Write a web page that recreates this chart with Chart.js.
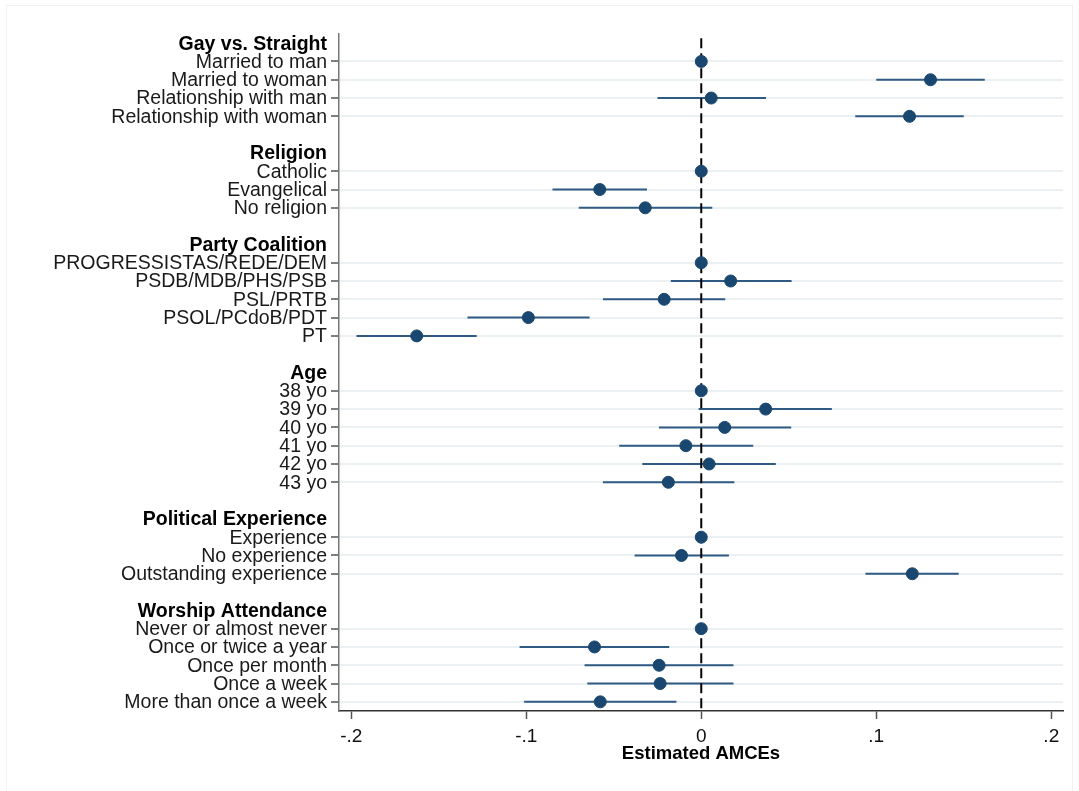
<!DOCTYPE html>
<html>
<head>
<meta charset="utf-8">
<script src="https://cdn.jsdelivr.net/npm/chart.js@4.4.0/dist/chart.umd.min.js"></script>
<style>
  body { margin: 0; background: #ffffff; }
  #wrap { width: 1079px; height: 791px; }
</style>
</head>
<body>
<div id="wrap"><canvas id="myChart" width="1079" height="791"></canvas></div>
<script>
const rowLabels = [
  "Gay vs. Straight", "Married to man", "Married to woman", "Relationship with man", "Relationship with woman", "",
  "Religion", "Catholic", "Evangelical", "No religion", "",
  "Party Coalition", "PROGRESSISTAS/REDE/DEM", "PSDB/MDB/PHS/PSB", "PSL/PRTB", "PSOL/PCdoB/PDT", "PT", "",
  "Age", "38 yo", "39 yo", "40 yo", "41 yo", "42 yo", "43 yo", "",
  "Political Experience", "Experience", "No experience", "Outstanding experience", "",
  "Worship Attendance", "Never or almost never", "Once or twice a year", "Once per month", "Once a week", "More than once a week",
];
const headers = ["Gay vs. Straight", "Religion", "Party Coalition", "Age", "Political Experience", "Worship Attendance"];

// null = header / spacer row, reference levels have no interval
const estimate = [
  null, 0, 0.131, 0.0057, 0.119, null,
  null, 0, -0.058, -0.032, null,
  null, 0, 0.0168, -0.0212, -0.0988, -0.1626, null,
  null, 0, 0.0368, 0.0134, -0.0088, 0.0045, -0.0188, null,
  null, 0, -0.0113, 0.1206, null,
  null, 0, -0.061, -0.0241, -0.0235, -0.0577,
];
const ciLow = [
  null, null, 0.100, -0.025, 0.088, null,
  null, null, -0.085, -0.070, null,
  null, null, -0.0174, -0.0562, -0.1336, -0.197, null,
  null, null, -0.0015, -0.0242, -0.0469, -0.0337, -0.0562, null,
  null, null, -0.0381, 0.0938, null,
  null, null, -0.1038, -0.0667, -0.0651, -0.1012,
];
const ciHigh = [
  null, null, 0.162, 0.037, 0.150, null,
  null, null, -0.031, 0.0063, null,
  null, null, 0.0516, 0.0137, -0.0638, -0.1283, null,
  null, null, 0.0746, 0.0514, 0.0297, 0.0426, 0.0189, null,
  null, null, 0.0158, 0.1471, null,
  null, null, -0.0183, 0.0184, 0.0184, -0.0142,
];
const xTicks = [-0.2, -0.1, 0, 0.1, 0.2];
const xTickLabels = ["-.2", "-.1", "0", ".1", ".2"];

const navy = "#1a476f";
const isHeader = (i) => headers.includes(rowLabels[i]);
const isItem = (i) => rowLabels[i] !== undefined && rowLabels[i] !== "" && !isHeader(i);

const pointData = [];
estimate.forEach((v, i) => { if (v !== null) pointData.push({ x: v, y: i }); });

const ciSets = [];
ciLow.forEach((lo, i) => {
  if (lo === null) return;
  ciSets.push({
    type: "line",
    data: [{ x: lo, y: i }, { x: ciHigh[i], y: i }],
    borderColor: "#2f5a84",
    borderWidth: 2,
    pointRadius: 0,
    order: 2,
  });
});

const frame = {
  id: "frame",
  beforeDraw(chart) {
    const ctx = chart.ctx;
    ctx.save();
    ctx.strokeStyle = "#f2f2f2";
    ctx.lineWidth = 1;
    ctx.strokeRect(6.5, 5.5, 1066, 800);
    ctx.restore();
  },
};

const config = {
  type: "scatter",
  data: {
    datasets: [
      {
        data: pointData,
        backgroundColor: navy,
        borderColor: navy,
        pointRadius: 6,
        pointHoverRadius: 6,
        order: 0,
      },
      {
        type: "line",
        data: [{ x: 0, y: -0.27 }, { x: 0, y: 36.5 }],
        borderColor: "#000000",
        borderWidth: 2,
        borderDash: [10, 5],
        pointRadius: 0,
        order: 1,
      },
      ...ciSets,
    ],
  },
  options: {
    responsive: false,
    animation: false,
    events: [],
    layout: { padding: { top: 34, right: 16, bottom: 26, left: 0 } },
    scales: {
      x: {
        type: "linear",
        min: -0.207,
        max: 0.2067,
        afterFit: (scale) => { scale.height = 54; },
        afterBuildTicks: (scale) => { scale.ticks = xTicks.map((v) => ({ value: v })); },
        border: { color: "#333333", width: 1.5 },
        grid: { drawOnChartArea: false, drawTicks: true, tickLength: 8, tickColor: "#555555", tickWidth: 1.5 },
        ticks: {
          autoSkip: false,
          maxRotation: 0,
          padding: 6,
          color: "#111111",
          font: { family: "'Liberation Sans', Arial, sans-serif", size: 19 },
          callback: (val) => xTickLabels[xTicks.indexOf(val)],
        },
        title: {
          display: true,
          text: "Estimated AMCEs",
          color: "#000000",
          padding: 0,
          font: { family: "'Liberation Sans', Arial, sans-serif", size: 18.5, weight: "bold" },
        },
      },
      y: {
        type: "linear",
        reverse: true,
        min: -0.5,
        max: 36.5,
        afterFit: (scale) => { scale.width = 339; },
        afterBuildTicks: (scale) => { scale.ticks = rowLabels.map((_, i) => ({ value: i })); },
        border: { color: "#777777", width: 1.5 },
        grid: {
          color: (ctx) => (ctx.tick && isItem(ctx.tick.value) ? "#ebf1f3" : "rgba(0,0,0,0)"),
          lineWidth: 2,
          tickLength: 8,
          tickColor: (ctx) => (ctx.tick && isItem(ctx.tick.value) ? "#555555" : "rgba(0,0,0,0)"),
          tickWidth: 1.5,
        },
        ticks: {
          autoSkip: false,
          padding: 4,
          labelOffset: 1,
          color: (ctx) => (ctx.tick && isHeader(ctx.tick.value) ? "#000000" : "#1a1a1a"),
          font: (ctx) => ({
            family: "'Liberation Sans', Arial, sans-serif",
            size: 19.5,
            lineHeight: 1,
            weight: ctx.tick && isHeader(ctx.tick.value) ? "bold" : "normal",
          }),
          callback: (val) => rowLabels[val],
        },
      },
    },
    plugins: {
      legend: { display: false },
      tooltip: { enabled: false },
    },
  },
  plugins: [frame],
};

new Chart(document.getElementById("myChart"), config);
</script>
</body>
</html>
